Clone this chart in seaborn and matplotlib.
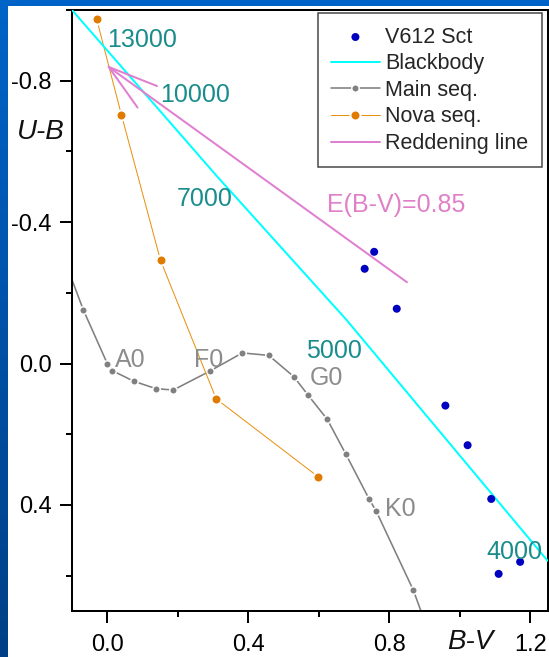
import numpy as np
import matplotlib
matplotlib.use("Agg")
import matplotlib.pyplot as plt
import seaborn as sns
from matplotlib.colors import LinearSegmentedColormap
from matplotlib.patches import Rectangle
from matplotlib.ticker import MultipleLocator, FormatStrFormatter

# --- V612 Sct photometry (B-V, U-B) ---
v612_bv = [0.757, 0.730, 0.821, 0.959, 1.022, 1.089, 1.171, 1.110]
v612_ub = [-0.316, -0.268, -0.155, 0.119, 0.231, 0.383, 0.561, 0.595]

# --- Blackbody locus ---
bb_bv = [-0.10, 0.31, 0.678, 1.249]
bb_ub = [-1.00, -0.531, -0.124, 0.558]

# --- Main sequence ---
ms_bv = [-0.12, -0.068, 0.000, 0.014, 0.075, 0.138, 0.187, 0.290, 0.383, 0.458,
         0.529, 0.570, 0.624, 0.677, 0.742, 0.763, 0.868, 0.93]
ms_ub = [-0.29, -0.152, 0.000, 0.020, 0.050, 0.071, 0.075, 0.022, -0.030, -0.023,
         0.037, 0.090, 0.158, 0.257, 0.382, 0.418, 0.641, 0.81]

# --- Nova sequence ---
nova_bv = [-0.030, 0.040, 0.151, 0.309, 0.599]
nova_ub = [-0.974, -0.704, -0.292, 0.100, 0.321]

# --- Reddening vector, E(B-V)=0.85, with arrow head ---
red_bv = [0.850, 0.004]
red_ub = [-0.230, -0.839]
head_bv = [0.141, 0.004, 0.086]
head_ub = [-0.785, -0.839, -0.724]

# --- Labels ---
temp_labels = ["13000", "10000", "7000", "5000", "4000"]
temp_bv = [-0.001, 0.150, 0.197, 0.563, 1.075]
temp_ub = [-0.896, -0.740, -0.446, -0.015, 0.553]

sp_labels = ["A0", "F0", "G0", "K0"]
sp_bv = [0.023, 0.246, 0.573, 0.787]
sp_ub = [0.0085, 0.0085, 0.061, 0.430]

sns.set_style("ticks")
plt.rcParams['font.family'] = ['Liberation Sans', 'DejaVu Sans']
plt.rcParams['axes.unicode_minus'] = False

PX = 72 / 100.0  # points per pixel at dpi=100
LABEL_FS = 18

fig = plt.figure(figsize=(5.49, 6.57), dpi=100)

# slide-style background: blue gradient frame with a white panel
bg = fig.add_axes([0, 0, 1, 1], zorder=-1)
grad = np.linspace(0, 1, 256).reshape(-1, 1)
cmap = LinearSegmentedColormap.from_list('frame', ['#0064c8', '#003f86'])
bg.imshow(grad, cmap=cmap, aspect='auto', extent=[0, 1, 0, 1])
bg.add_patch(Rectangle((8 / 549, 0), 1, 1 - 6 / 657, facecolor='white', edgecolor='none'))
bg.set_xlim(0, 1)
bg.set_ylim(0, 1)
bg.axis('off')

ax = fig.add_axes([72 / 549, 1 - 611 / 657, 476 / 549, 601 / 657])
ax.set_facecolor('white')

sns.lineplot(x=bb_bv, y=bb_ub, sort=False, estimator=None, ax=ax,
             color='#00ffff', linewidth=2 * PX, label='Blackbody', zorder=3)

sns.lineplot(x=ms_bv, y=ms_ub, sort=False, estimator=None, ax=ax,
             color='#808080', linewidth=1.6 * PX, marker='o',
             markersize=7.5 * PX, markerfacecolor='#808080',
             markeredgecolor='white', markeredgewidth=1.5 * PX,
             label='Main seq.', zorder=2)

sns.lineplot(x=nova_bv, y=nova_ub, sort=False, estimator=None, ax=ax,
             color='#e8900e', linewidth=1.0 * PX, marker='o',
             markersize=10 * PX, markerfacecolor='#e07b00',
             markeredgecolor='white', markeredgewidth=2 * PX,
             label='Nova seq.', zorder=2)

sns.lineplot(x=red_bv, y=red_ub, sort=False, estimator=None, ax=ax,
             color='#e07fd0', linewidth=2 * PX, label='Reddening line', zorder=4)
sns.lineplot(x=head_bv, y=head_ub, sort=False, estimator=None, ax=ax,
             color='#e07fd0', linewidth=2 * PX, zorder=4)

sns.scatterplot(x=v612_bv, y=v612_ub, ax=ax, color='#0000c0', s=(8 * PX) ** 2,
                edgecolor='none', linewidth=0, label='V612 Sct', zorder=5)

for s, x, y in zip(temp_labels, temp_bv, temp_ub):
    ax.text(x, y, s, color='#1a8c8c', fontsize=LABEL_FS,
            ha='left', va='baseline', zorder=6)
for s, x, y in zip(sp_labels, sp_bv, sp_ub):
    ax.text(x, y, s, color='#8c8c8c', fontsize=LABEL_FS,
            ha='left', va='baseline', zorder=6)
ax.text(0.624, -0.429, "E(B-V)=0.85", color='#e080c8', fontsize=LABEL_FS,
        ha='left', va='baseline', zorder=6)

ax.set_xlim(-0.1, 1.25)
ax.set_ylim(0.7, -1.0)

ax.xaxis.set_major_locator(MultipleLocator(0.4))
ax.xaxis.set_minor_locator(MultipleLocator(0.2))
ax.yaxis.set_major_locator(MultipleLocator(0.4))
ax.yaxis.set_minor_locator(MultipleLocator(0.2))
ax.xaxis.set_major_formatter(FormatStrFormatter('%.1f'))
ax.yaxis.set_major_formatter(FormatStrFormatter('%.1f'))

ax.tick_params(which='major', direction='out', length=12 * PX, width=2 * PX,
               labelsize=17, colors='black')
ax.tick_params(which='minor', direction='out', length=6 * PX, width=2 * PX, colors='black')
ax.tick_params(axis='x', which='major', pad=11 * PX)
ax.tick_params(axis='y', which='major', pad=8 * PX)

for sp in ax.spines.values():
    sp.set_visible(True)
    sp.set_color('black')
    sp.set_linewidth(2 * PX)

ax.set_xlabel('B-V', fontsize=20, style='italic', color='#111111')
ax.xaxis.label.set_va('center')
ax.xaxis.set_label_coords(0.836, -0.052)
ax.set_ylabel('U-B', fontsize=20, style='italic', rotation=0, color='#111111')
ax.yaxis.label.set_ha('center')
ax.yaxis.label.set_va('center')
ax.yaxis.set_label_coords(-0.065, 0.797)

handles, labels = ax.get_legend_handles_labels()
order = ['V612 Sct', 'Blackbody', 'Main seq.', 'Nova seq.', 'Reddening line']
hmap = dict(zip(labels, handles))
leg = ax.legend([hmap[k] for k in order], order, loc='upper right',
                bbox_to_anchor=(0.987, 0.9945), borderaxespad=0,
                fontsize=15.5, handlelength=2.26, handletextpad=0.26,
                borderpad=0.62, labelspacing=0.26, frameon=True,
                fancybox=False, framealpha=1, edgecolor='#444444')
leg.get_frame().set_linewidth(1.5 * PX)
leg.set_zorder(10)

fig.savefig('out.png', dpi=100)
